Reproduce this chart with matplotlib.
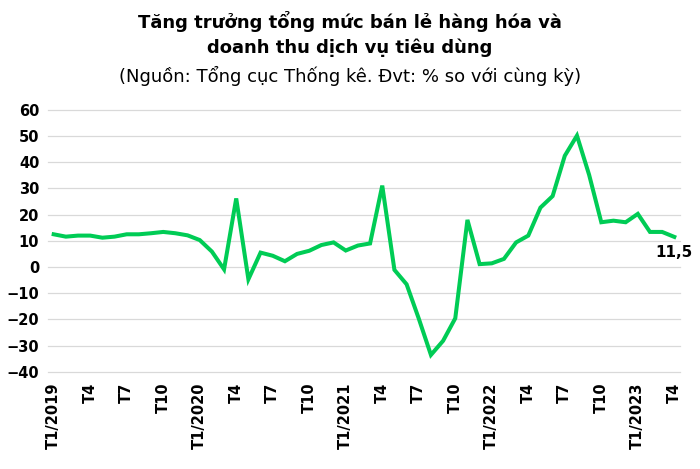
import matplotlib
matplotlib.use("Agg")
import matplotlib.pyplot as plt
import numpy as np

# Monthly growth, T1/2019 .. T4/2023 (% y/y)
growth = [
    12.5, 11.6, 12.0, 12.0, 11.2, 11.6, 12.5, 12.5, 12.9, 13.4, 12.9, 12.1,   # 2019
    10.3, 5.9, -0.9, 26.2, -4.7, 5.5, 4.3, 2.2, 5.0, 6.2, 8.4, 9.4,          # 2020
    6.3, 8.2, 9.0, 31.1, -1.1, -6.6, -19.7, -33.6, -28.2, -19.6, 18.0, 1.1,  # 2021
    1.4, 3.1, 9.4, 12.0, 22.7, 27.1, 42.5, 50.2, 35.2, 17.1, 17.7, 17.1,     # 2022
    20.3, 13.4, 13.4, 11.5,                                                  # 2023
]
years = [2019, 2020, 2021, 2022, 2023]
tick_labels = []
for y in years:
    tick_labels += [f"T1/{y}", "T4", "T7", "T10"]
tick_labels = tick_labels[:18]
last_label = "11,5"

title1 = "Tăng trưởng tổng mức bán lẻ hàng hóa và"
title2 = "doanh thu dịch vụ tiêu dùng"
subtitle = "(Nguồn: Tổng cục Thống kê. Đvt: % so với cùng kỳ)"

plt.rcParams['font.family'] = ['DejaVu Sans']

fig = plt.figure(figsize=(7, 4.69), dpi=100)
ax = fig.add_axes([0.068, 0.2075, 0.904, 0.558])

x = np.arange(len(growth))
ax.plot(x, growth, color='#00CC55', linewidth=2.9, solid_joinstyle='miter', zorder=3)

ax.set_xlim(-0.5, len(growth) - 0.5)
ax.set_ylim(-40, 60)
ax.set_yticks(np.arange(-40, 61, 10))
ax.set_xticks(x[::3])
ax.set_xticklabels(tick_labels, rotation=90, fontweight='bold', fontsize=10.5)
for lbl in ax.get_yticklabels():
    lbl.set_fontweight('bold')
    lbl.set_fontsize(10.5)
ax.tick_params(axis='both', length=0)
ax.tick_params(axis='y', pad=6)
ax.tick_params(axis='x', pad=8)
ax.grid(axis='y', color='#d9d9d9', linewidth=0.9)
for gl in ax.get_ygridlines():
    gl.set_clip_on(False)
ax.set_axisbelow(True)
for s in ax.spines.values():
    s.set_visible(False)

ax.annotate(last_label, (x[-1], growth[-1]), xytext=(0, -11), textcoords='offset points',
            ha='center', va='center', fontsize=11, fontweight='bold')

fig.text(0.5, 0.955, title1, ha='center', va='center', fontsize=13, fontweight='bold')
fig.text(0.5, 0.898, title2, ha='center', va='center', fontsize=13, fontweight='bold')
fig.text(0.5, 0.837, subtitle, ha='center', va='center', fontsize=13)

fig.savefig("out.png", dpi=100)
